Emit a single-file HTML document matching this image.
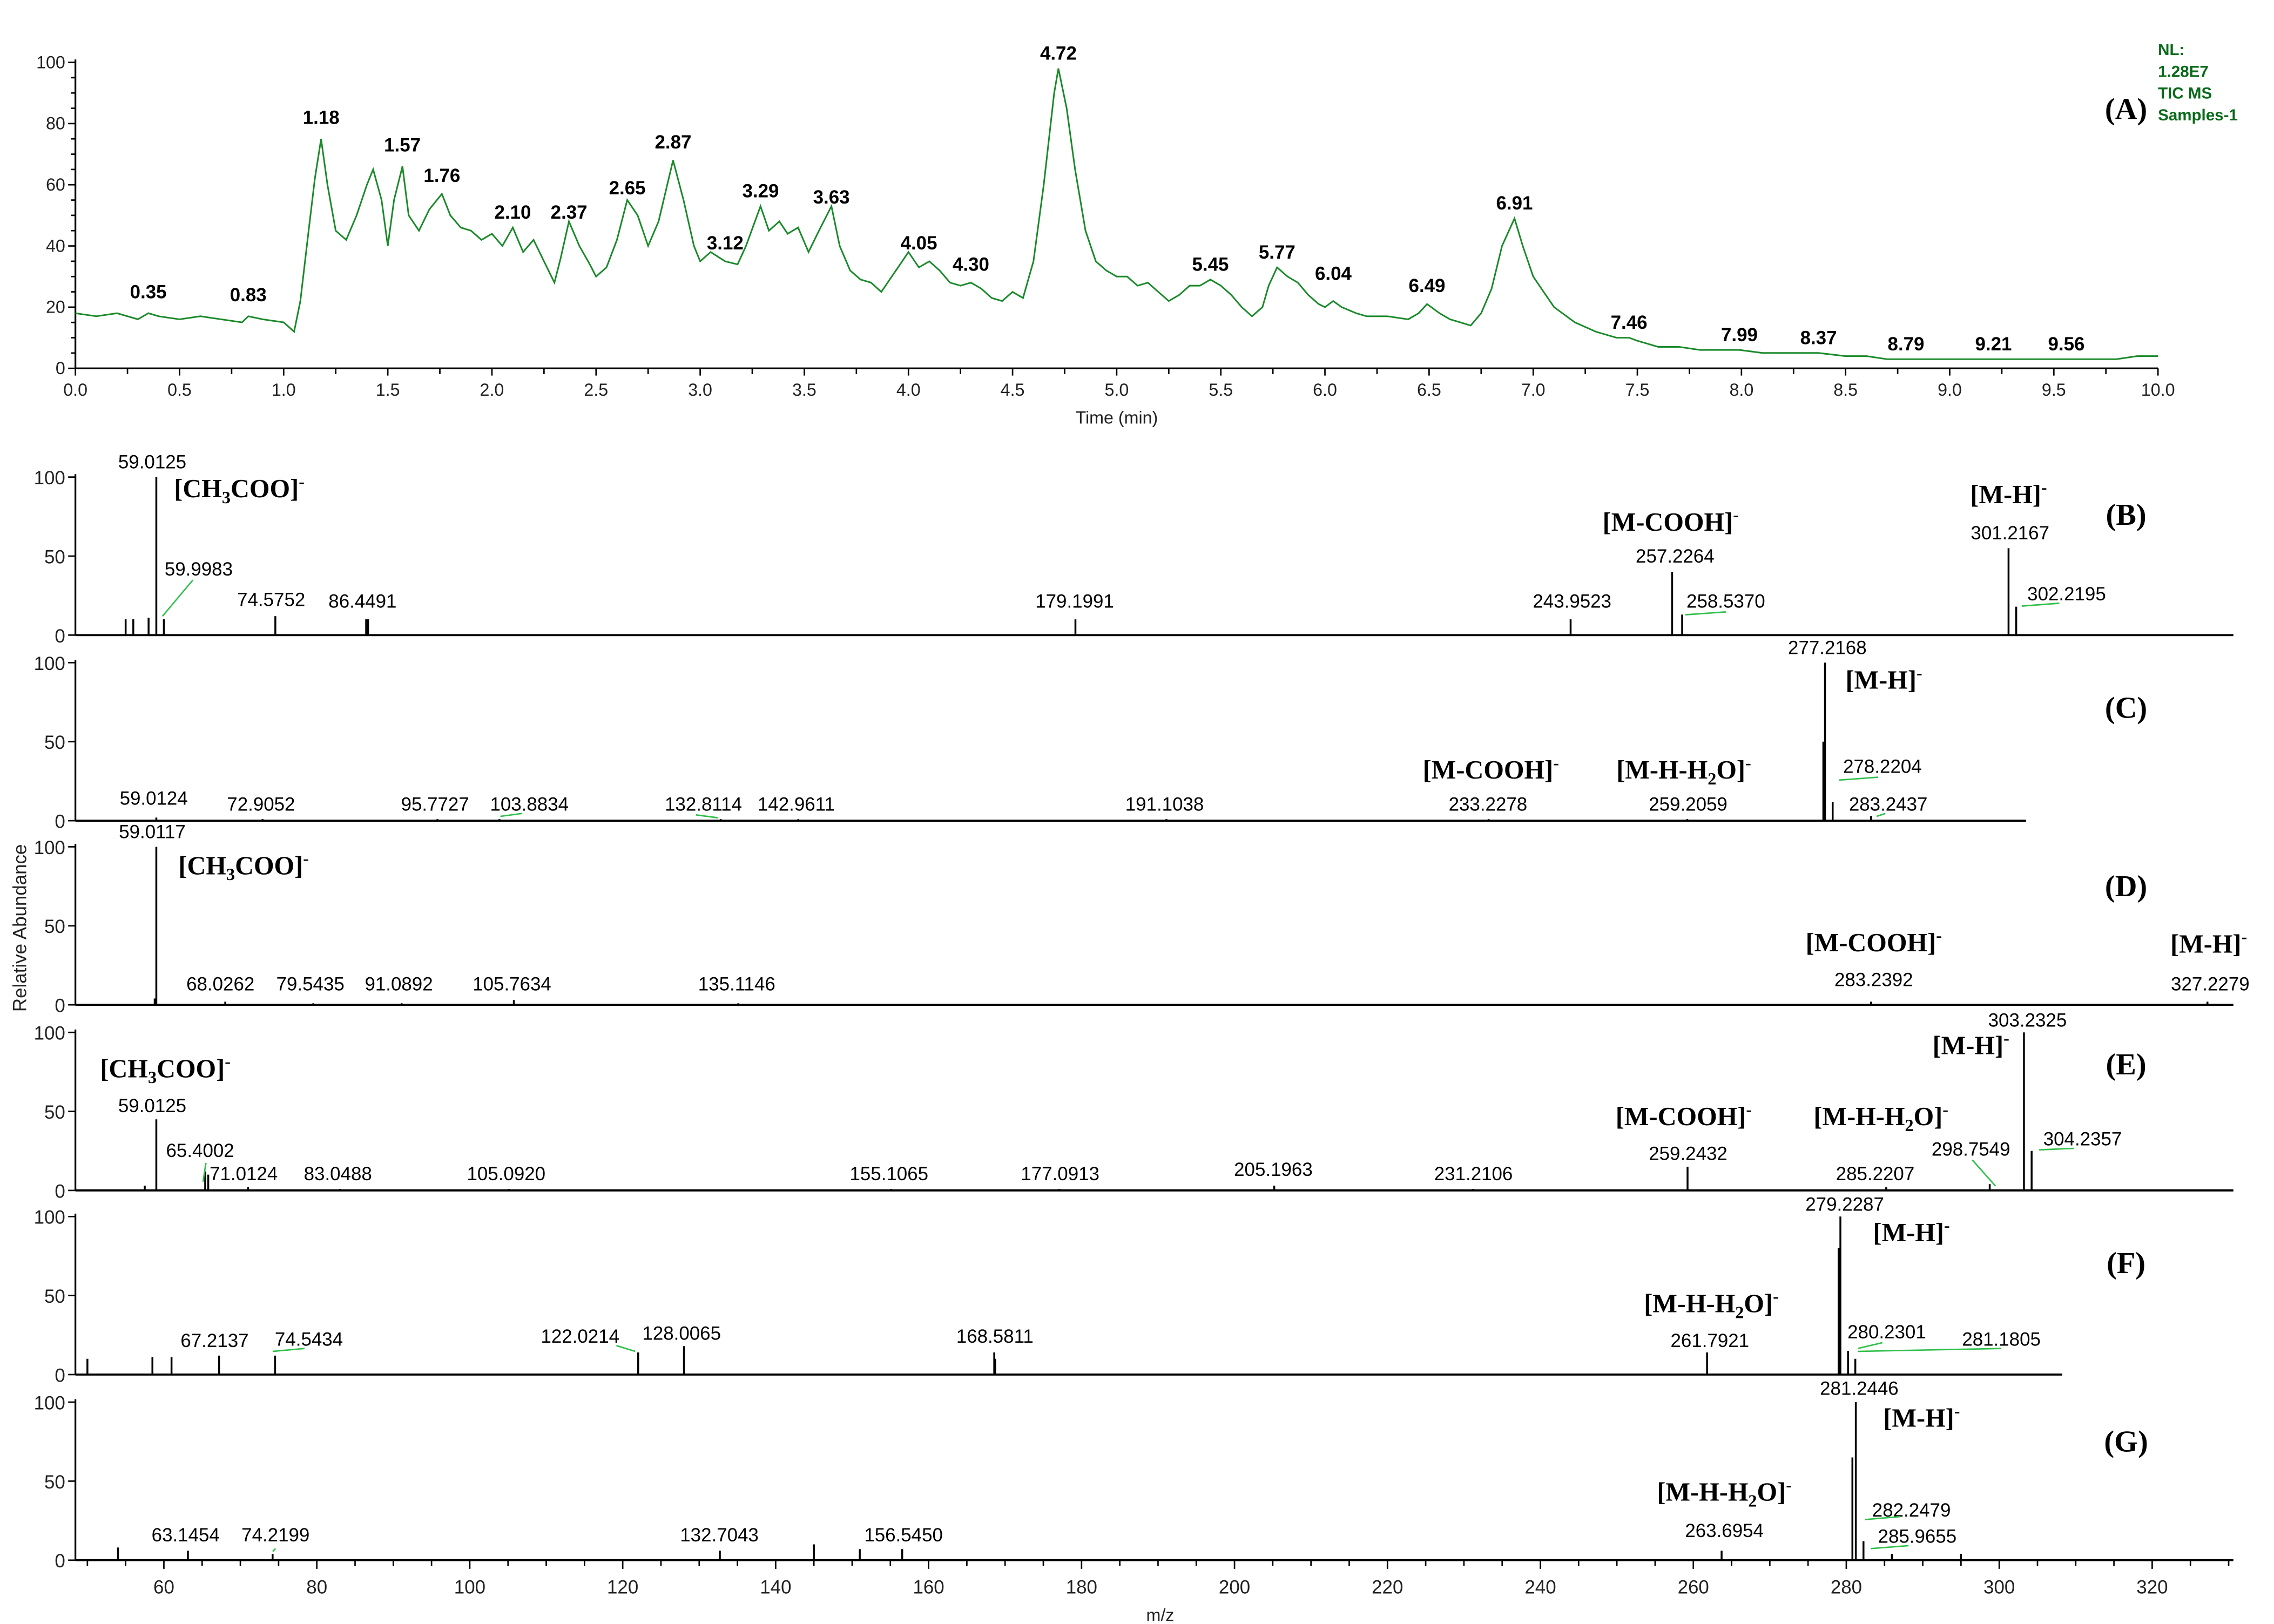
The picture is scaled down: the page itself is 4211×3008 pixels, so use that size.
<!DOCTYPE html>
<html><head><meta charset="utf-8"><style>
html,body{margin:0;padding:0;background:#fff;}
svg{display:block;}
.n{font-family:"Liberation Sans",sans-serif;font-size:13px;fill:#000;text-anchor:middle;}
.b{font-weight:bold;}
.ann{font-family:"Liberation Serif",serif;font-weight:bold;font-size:18px;fill:#000;text-anchor:middle;}
.pl{font-family:"Liberation Serif",serif;font-weight:bold;font-size:21px;fill:#000;text-anchor:middle;}
.tk{font-family:"Liberation Sans",sans-serif;font-size:12px;fill:#222;}
</style></head><body>
<svg id="fig" xmlns="http://www.w3.org/2000/svg" width="4211" height="3008" viewBox="0 0 1568 1120">
<rect width="1568" height="1120" fill="#fff"/>
</svg>
<script>
// ===== Panel A data (TIC) =====
const ticTimes=[0,0.1,0.2,0.3,0.35,0.4,0.5,0.6,0.7,0.8,0.83,0.9,1.0,1.05,1.08,1.12,1.15,1.18,1.21,1.25,1.3,1.35,1.4,1.43,1.47,1.5,1.53,1.57,1.6,1.65,1.7,1.76,1.8,1.85,1.9,1.95,2.0,2.05,2.1,2.15,2.2,2.25,2.3,2.33,2.37,2.42,2.47,2.5,2.55,2.6,2.65,2.7,2.75,2.8,2.87,2.92,2.97,3.0,3.05,3.12,3.18,3.22,3.29,3.33,3.38,3.42,3.47,3.52,3.57,3.63,3.67,3.72,3.77,3.82,3.87,3.92,3.97,4.0,4.05,4.1,4.15,4.2,4.25,4.3,4.35,4.4,4.45,4.5,4.55,4.6,4.65,4.7,4.72,4.76,4.8,4.85,4.9,4.95,5.0,5.05,5.1,5.15,5.2,5.25,5.3,5.35,5.4,5.45,5.5,5.55,5.6,5.65,5.7,5.73,5.77,5.82,5.87,5.92,5.97,6.0,6.04,6.08,6.15,6.2,6.3,6.4,6.45,6.49,6.55,6.6,6.65,6.7,6.75,6.8,6.85,6.91,6.95,7.0,7.05,7.1,7.2,7.3,7.4,7.46,7.5,7.6,7.7,7.8,7.9,7.99,8.1,8.2,8.3,8.37,8.5,8.6,8.7,8.79,8.9,9.0,9.1,9.21,9.3,9.4,9.56,9.7,9.8,9.9,10.0];
const ticValues=[18,17,18,16,18,17,16,17,16,15,17,16,15,12,22,45,62,75,60,45,42,50,60,65,55,40,55,66,50,45,52,57,50,46,45,42,44,40,46,38,42,35,28,36,48,40,34,30,33,42,55,50,40,48,68,55,40,35,38,35,34,40,53,45,48,44,46,38,45,53,40,32,29,28,25,30,35,38,33,35,32,28,27,28,26,23,22,25,23,35,60,90,98,85,65,45,35,32,30,30,27,28,25,22,24,27,27,29,27,24,20,17,20,27,33,30,28,24,21,20,22,20,18,17,17,16,18,21,18,16,15,14,18,26,40,49,40,30,25,20,15,12,10,10,9,7,7,6,6,6,5,5,5,5,4,4,3,3,3,3,3,3,3,3,3,3,3,4,4];
const peakLabelTimes=["0.35","0.83","1.18","1.57","1.76","2.10","2.37","2.65","2.87","3.12","3.29","3.63","4.05","4.30","4.72","5.45","5.77","6.04","6.49","6.91","7.46","7.99","8.37","8.79","9.21","9.56"];
const peakLabelHeights=[21,20,78,69,59,47,47,55,70,37,54,52,37,30,99,30,34,27,23,50,11,7,6,4,4,4];
const xTicksA=[0,0.5,1,1.5,2,2.5,3,3.5,4,4.5,5,5.5,6,6.5,7,7.5,8,8.5,9,9.5,10];
const yTicksA=[0,20,40,60,80,100];

// ===== Spectra data =====
const mzTicks=[60,80,100,120,140,160,180,200,220,240,260,280,300,320];
const specB_mz=[55,56,58,59.0125,59.9983,74.5752,86.4491,86.7,179.1991,243.9523,257.2264,258.537,301.2167,302.2195];
const specB_int=[10,10,11,100,10,12,10,10,10,10,40,13,55,18];
const specC_mz=[59.0124,72.9052,95.7727,103.8834,132.8114,142.9611,191.1038,233.2278,259.2059,277.0,277.2168,278.2204,283.2437];
const specC_int=[2,1,1,1,1,1,1,1,1,50,100,12,3];
const specD_mz=[58.8,59.0117,68.0262,79.5435,91.0892,105.7634,135.1146,283.2392,327.2279];
const specD_int=[4,100,2,1,1,3,1,2,2];
const specE_mz=[57.5,59.0125,65.4002,65.8,71.0124,83.0488,105.092,155.1065,177.0913,205.1963,231.2106,259.2432,285.2207,298.7549,303.2325,304.2357];
const specE_int=[3,45,12,10,2,1,1,1,1,3,1,15,2,4,100,25];
const specF_mz=[50,58.5,61,67.2137,74.5434,122.0214,128.0065,168.5811,168.7,261.7921,279.0,279.2287,280.2301,281.1805];
const specF_int=[10,11,11,12,12,14,18,14,10,14,80,100,15,10];
const specG_mz=[54,63.1454,74.2199,132.7043,145,151,156.545,263.6954,280.8,281.2446,282.2479,285.9655,295];
const specG_int=[8,6,4,6,10,7,7,6,65,100,12,4,4];

const NS="http://www.w3.org/2000/svg";
const svg=document.getElementById('fig');
function mk(tag,attrs,parent){const e=document.createElementNS(NS,tag);for(const k in attrs)e.setAttribute(k,attrs[k]);(parent||svg).appendChild(e);return e;}
function txt(x,y,s,cls,parent){const t=mk('text',{x:x,y:y,class:cls},parent);t.textContent=s;return t;}

// ---------- Panel A ----------
const ax0=52,ax1=1488,ay0=254,ay1=43;
const tx=t=>ax0+(ax1-ax0)*t/10;
const ty=v=>ay0-(ay0-ay1)*v/100;
const gA=mk('g',{});


const yaxA=mk('line',{x1:ax0,y1:ay0,x2:ax0,y2:ay1-2,stroke:'#000','stroke-width':1.2},gA);


const xaxA=mk('line',{x1:ax0,y1:ay0,x2:ax1,y2:ay0,stroke:'#000','stroke-width':1.2},gA);


for(let v=0;v<=100;v+=5){mk('line',{x1:ax0-(v%20===0?5:3),y1:ty(v),x2:ax0,y2:ty(v),stroke:'#000'},gA);}
yTicksA.forEach(v=>{const t=txt(ax0-7,ty(v)+4,String(v),'tk',gA);t.setAttribute('text-anchor','end');

});
for(let i=0;i<=40;i++){const t=i*0.25;mk('line',{x1:tx(t),y1:ay0,x2:tx(t),y2:ay0+(i%2===0?5:4),stroke:'#000'},gA);}
xTicksA.forEach(t=>{const e=txt(tx(t),ay0+19,t.toFixed(1),'tk',gA);e.setAttribute('text-anchor','middle');

});
const xt=txt(770,292,'Time (min)','tk',gA);xt.setAttribute('text-anchor','middle');


let d='';ticTimes.forEach((t,i)=>{d+=(i?'L':'M')+tx(t).toFixed(1)+','+ty(ticValues[i]).toFixed(1);});
const tic=mk('path',{d:d,fill:'none',stroke:'#1a8a2a','stroke-width':1.1},gA);


peakLabelTimes.forEach((s,i)=>{const e=txt(tx(parseFloat(s)),ty(peakLabelHeights[i])-4,s,'n b',gA);

});
const pa=txt(1466,82,'(A)','pl',gA);


const nl=mk('text',{x:1488,y:38,style:'font-family:Liberation Sans,sans-serif;font-size:11px;font-weight:bold;fill:#0a6a1a'},gA);


['NL:','1.28E7','TIC  MS','Samples-1'].forEach((s,i)=>{const ts=mk('tspan',{x:1488,dy:i?15:0},nl);ts.textContent=s;});

// ---------- Spectra ----------
const mzx=m=>113+(1484-113)*(m-60)/260;
const panels=[
 {id:'b',mz:specB_mz,it:specB_int,y0:438,end:1540},
 {id:'c',mz:specC_mz,it:specC_int,y0:566,end:1397},
 {id:'d',mz:specD_mz,it:specD_int,y0:693,end:1540},
 {id:'e',mz:specE_mz,it:specE_int,y0:821,end:1540},
 {id:'f',mz:specF_mz,it:specF_int,y0:948,end:1422},
 {id:'g',mz:specG_mz,it:specG_int,y0:1076,end:1540}];
panels.forEach(p=>{
 const g=mk('g',{});
 
 
 const sy=v=>p.y0-109*v/100;
 mk('line',{x1:ax0,y1:p.y0,x2:ax0,y2:sy(100)-2,stroke:'#000','stroke-width':1.2},g);
 mk('line',{x1:ax0,y1:p.y0,x2:p.end,y2:p.y0,stroke:'#000','stroke-width':1.4},g);
 [0,50,100].forEach(v=>{mk('line',{x1:ax0-5,y1:sy(v),x2:ax0,y2:sy(v),stroke:'#000'},g);
  const t=txt(ax0-7,sy(v)+5,String(v),'tk',g);t.setAttribute('text-anchor','end');t.setAttribute('style','font-size:13px');});
 p.mz.forEach((m,i)=>{const l=mk('line',{x1:mzx(m),y1:p.y0,x2:mzx(m),y2:sy(p.it[i]),stroke:'#000','stroke-width':1.3},g);
  
  });
});
// bottom m/z axis ticks
for(let m=50;m<=330;m+=5){const big=m%20===0;mk('line',{x1:mzx(m),y1:1076,x2:mzx(m),y2:1076+(big?6:4),stroke:'#000'});}
mzTicks.forEach(m=>{const t=txt(mzx(m),1099,String(m),'tk');t.setAttribute('text-anchor','middle');t.setAttribute('style','font-size:13px');

});
const mzt=txt(800,1118,'m/z','tk');mzt.setAttribute('text-anchor','middle');


const ra=txt(0,0,'Relative Abundance','tk');ra.setAttribute('text-anchor','middle');ra.setAttribute('transform','translate(18,640) rotate(-90)');ra.setAttribute('style','font-size:13px');



// numeric labels [x,y,text]
const numLabels=[
[105,323,'59.0125'],[137,397,'59.9983'],[187,418,'74.5752'],[250,419,'86.4491'],[741,419,'179.1991'],[1084,419,'243.9523'],[1155,388,'257.2264'],[1190,419,'258.5370'],[1386,372,'301.2167'],[1425,414,'302.2195'],
[1260,451,'277.2168'],[1298,533,'278.2204'],[1302,559,'283.2437'],[1026,559,'233.2278'],[1164,559,'259.2059'],[106,555,'59.0124'],[180,559,'72.9052'],[300,559,'95.7727'],[365,559,'103.8834'],[485,559,'132.8114'],[549,559,'142.9611'],[803,559,'191.1038'],
[105,578,'59.0117'],[152,683,'68.0262'],[214,683,'79.5435'],[275,683,'91.0892'],[353,683,'105.7634'],[508,683,'135.1146'],[1292,680,'283.2392'],[1524,683,'327.2279'],
[105,767,'59.0125'],[138,798,'65.4002'],[168,814,'71.0124'],[233,814,'83.0488'],[349,814,'105.0920'],[613,814,'155.1065'],[731,814,'177.0913'],[878,811,'205.1963'],[1016,814,'231.2106'],[1164,800,'259.2432'],[1293,814,'285.2207'],[1359,797,'298.7549'],[1398,708,'303.2325'],[1436,790,'304.2357'],
[1272,835,'279.2287'],[1179,929,'261.7921'],[1301,923,'280.2301'],[1380,928,'281.1805'],[148,929,'67.2137'],[213,928,'74.5434'],[400,926,'122.0214'],[470,924,'128.0065'],[686,926,'168.5811'],
[1282,962,'281.2446'],[1318,1046,'282.2479'],[1322,1064,'285.9655'],[1189,1060,'263.6954'],[128,1063,'63.1454'],[190,1063,'74.2199'],[496,1063,'132.7043'],[623,1063,'156.5450']];
numLabels.forEach(a=>{const t=txt(a[0],a[1],a[2],'n');

});

// annotation labels: [x,y,main,sub,after,sup]
const anns=[
[165,343,'[CH','3','COO]','-'],[1152,366,'[M-COOH]','','','-'],[1385,347,'[M-H]','','','-'],
[1299,475,'[M-H]','','','-'],[1028,537,'[M-COOH]','','','-'],[1161,537,'[M-H-H','2','O]','-'],
[168,603,'[CH','3','COO]','-'],[1292,656,'[M-COOH]','','','-'],[1523,657,'[M-H]','','','-'],
[114,743,'[CH','3','COO]','-'],[1161,776,'[M-COOH]','','','-'],[1297,776,'[M-H-H','2','O]','-'],[1359,727,'[M-H]','','','-'],
[1318,856,'[M-H]','','','-'],[1180,905,'[M-H-H','2','O]','-'],
[1325,984,'[M-H]','','','-'],[1189,1035,'[M-H-H','2','O]','-']];
anns.forEach(a=>{const t=mk('text',{x:a[0],y:a[1],class:'ann'});


 const s1=mk('tspan',{},t);s1.textContent=a[2];
 if(a[3]){const s2=mk('tspan',{dy:4,'font-size':12},t);s2.textContent=a[3];const s3=mk('tspan',{dy:-4},t);s3.textContent=a[4];}
 const s4=mk('tspan',{dy:-7,'font-size':12},t);s4.textContent=a[5];});

// panel letters
[['B',362],['C',495],['D',618],['E',741],['F',878],['G',1001]].forEach(p=>{const t=txt(1466,p[1],'('+p[0]+')','pl');

});

// green leader lines
[[112,425,133,400],[1162,424,1190,422],[1394,418,1420,416],[1268,538,1295,536],[1294,563,1300,561],[345,563,360,561],[480,562,495,564],
[140,815,142,802],[1376,818,1360,800],[1406,793,1430,792],[188,932,210,930],[425,928,438,932],[1281,930,1298,926],[1281,932,1380,930],[1286,1048,1310,1046],[1290,1068,1316,1066],[188,1070,190,1068]]
.forEach(l=>{mk('line',{x1:l[0],y1:l[1],x2:l[2],y2:l[3],stroke:'#2fbf4a','stroke-width':1});});
</script>
</body></html>
